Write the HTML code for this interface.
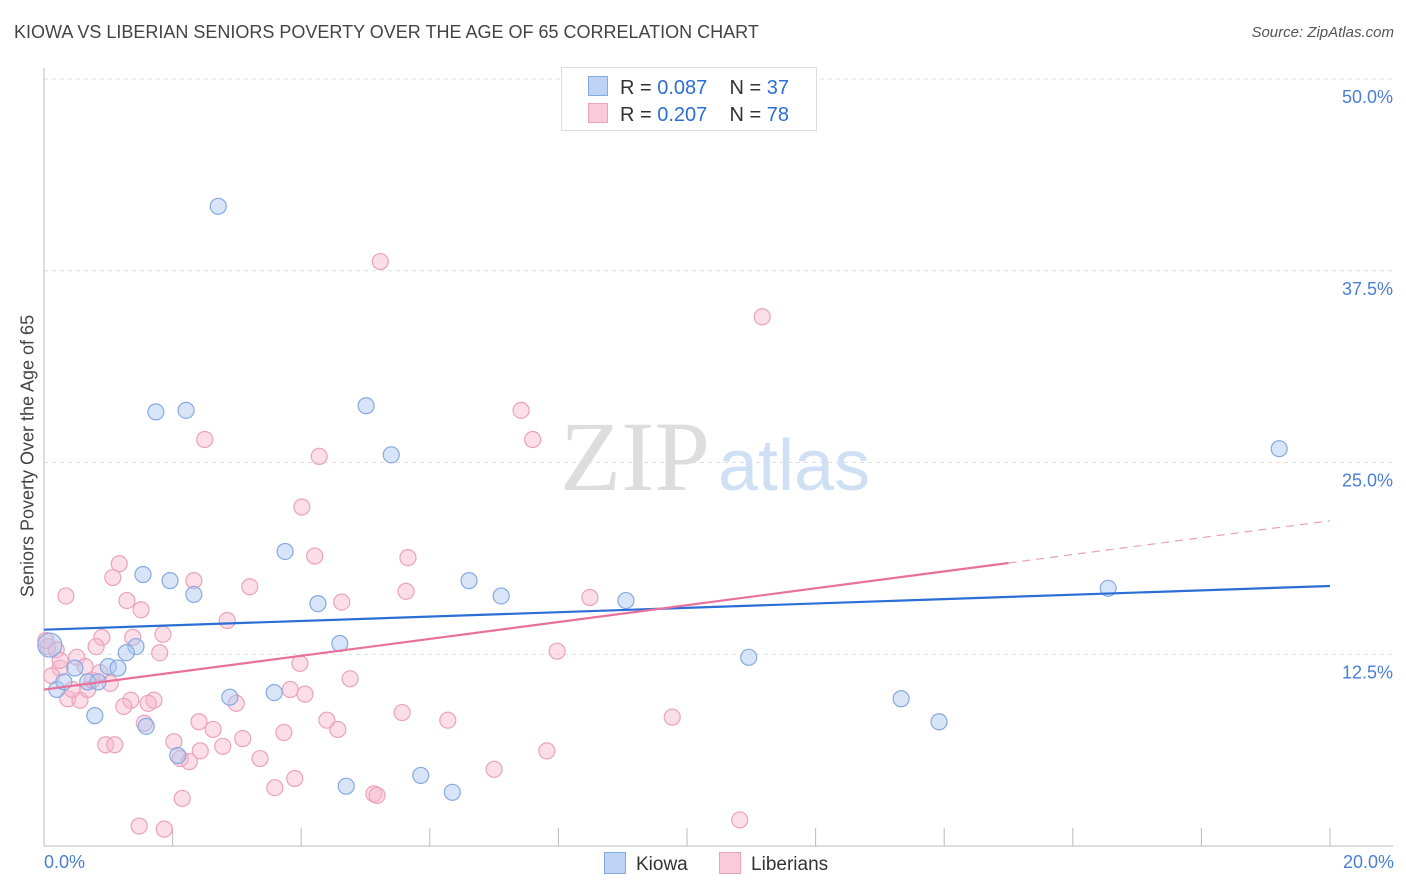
<!DOCTYPE html>
<html><head><meta charset="utf-8">
<style>
body{margin:0;background:#fff;font-family:"Liberation Sans",sans-serif;}
#wrap{position:relative;width:1406px;height:892px;overflow:hidden;}
.t{position:absolute;white-space:nowrap;}
</style></head>
<body>
<div id="wrap">
<div class="t" style="left:14px;top:22px;font-size:18px;color:#444;">KIOWA VS LIBERIAN SENIORS POVERTY OVER THE AGE OF 65 CORRELATION CHART</div>
<div class="t" style="right:12px;top:24px;font-size:15px;color:#555;font-style:italic;">Source: ZipAtlas.com</div>
<svg id="svg" width="1406" height="892" style="position:absolute;left:0;top:0"></svg>
</div>
<script>
const kiowaX=[2.71,1.74,2.21,5.01,5.40,19.21,3.75,1.54,1.96,2.33,4.26,6.61,7.11,9.05,16.55,4.60,1.43,1.28,1.00,1.15,0.48,0.68,0.84,0.20,0.79,1.59,2.89,3.58,2.08,4.70,5.86,6.35,10.96,13.33,13.92,0.09,0.31];
const kiowaY=[41.7,28.3,28.4,28.7,25.5,25.9,19.2,17.7,17.3,16.4,15.8,17.3,16.3,16.0,16.8,13.2,13.0,12.6,11.7,11.6,11.6,10.7,10.7,10.2,8.5,7.8,9.7,10.0,5.9,3.9,4.6,3.5,12.3,9.6,8.1,13.1,10.7];
const libX=[5.23,11.17,7.42,7.60,2.50,4.28,4.01,1.17,4.21,5.66,1.07,2.33,3.20,0.34,1.29,1.51,4.63,5.63,8.49,2.85,1.85,1.38,0.90,0.81,1.80,7.98,0.51,3.98,0.64,0.25,0.06,0.12,1.03,4.76,3.83,4.06,0.37,0.56,1.35,1.71,1.62,1.24,2.99,5.57,6.28,9.77,4.40,4.57,2.41,2.63,1.56,3.73,2.02,3.09,0.96,1.10,2.78,2.43,7.82,3.36,2.12,2.26,7.00,3.90,3.59,5.13,5.18,2.15,1.48,1.87,10.82,0.19,0.03,0.25,0.44,0.68,0.75,0.87];
const libY=[38.1,34.5,28.4,26.5,26.5,25.4,22.1,18.4,18.9,18.8,17.5,17.3,16.9,16.3,16.0,15.4,15.9,16.6,16.2,14.7,13.8,13.6,13.6,13.0,12.6,12.7,12.3,11.9,11.7,11.6,13.0,11.1,10.6,10.9,10.2,9.9,9.6,9.5,9.5,9.5,9.3,9.1,9.3,8.7,8.2,8.4,8.2,7.6,8.1,7.6,8.0,7.4,6.8,7.0,6.6,6.6,6.5,6.2,6.2,5.7,5.7,5.5,5.0,4.4,3.8,3.4,3.3,3.1,1.3,1.1,1.7,12.8,13.4,12.1,10.2,10.2,10.8,11.3];
const kiowaTrend=[14.1,16.95];
const libTrend=[10.2,21.2];
const yTicks=[12.5,25.0,37.5,50.0];
const yTickLabels=["12.5%","25.0%","37.5%","50.0%"];
const xTicks=[0,2,4,6,8,10,12,14,16,18,20];

const X0=44,X1=1330,Y0=846,Ypp=767/50;
const sx=v=>X0+(X1-X0)*v/20;
const sy=v=>Y0-v*Ypp;
const svg=document.getElementById('svg');
const NS='http://www.w3.org/2000/svg';
function mk(tag,attrs,parent){const e=document.createElementNS(NS,tag);for(const k in attrs)e.setAttribute(k,attrs[k]);(parent||svg).appendChild(e);return e;}

yTicks.forEach((v,i)=>{
  const g=mk('line',{x1:X0,x2:1393,y1:sy(v),y2:sy(v),stroke:'#ddd','stroke-dasharray':'4,4'});
  
  
  const t=mk('text',{x:1393,y:sy(v)+24,'text-anchor':'end','font-size':18,fill:'#4a7fd4','font-family':'Liberation Sans, sans-serif'});
  t.textContent=yTickLabels[i];
  
  
});
let a=mk('line',{x1:X0,x2:X0,y1:68,y2:Y0,stroke:'#bbb'});


a=mk('line',{x1:X0,x2:1393,y1:Y0,y2:Y0,stroke:'#bbb'});


xTicks.forEach(v=>{
  const t=mk('line',{x1:sx(v),x2:sx(v),y1:Y0,y2:828,stroke:'#bbb'});
  
  
});
let w=mk('text',{x:635,y:490,'text-anchor':'middle','font-size':100,fill:'#ddd','font-family':'Liberation Serif, serif'});
w.textContent='ZIP';


w=mk('text',{x:718,y:490,'font-size':72,fill:'#cfe0f5','font-family':'Liberation Sans, sans-serif'});
w.textContent='atlas';



libX.forEach((x,i)=>{
  const c=mk('circle',{cx:sx(x),cy:sy(libY[i]),r:8,fill:'rgba(248,182,204,0.45)',stroke:'#eba2bb','stroke-width':1.2});
  
  
});
kiowaX.forEach((x,i)=>{
  const c=mk('circle',{cx:sx(x),cy:sy(kiowaY[i]),r:i===35?12:8,fill:'rgba(168,198,242,0.45)',stroke:'#86a9e0','stroke-width':1.2});
  
  
});
let l=mk('line',{x1:sx(0),y1:sy(kiowaTrend[0]),x2:sx(20),y2:sy(kiowaTrend[1]),stroke:'#2a6fd6','stroke-width':2.2});


const pAt=x=>libTrend[0]+(libTrend[1]-libTrend[0])*x/20;
l=mk('line',{x1:sx(0),y1:sy(pAt(0)),x2:sx(15),y2:sy(pAt(15)),stroke:'#e8709a','stroke-width':2.2});


l=mk('line',{x1:sx(15),y1:sy(pAt(15)),x2:sx(20),y2:sy(pAt(20)),stroke:'#e8a0b8','stroke-width':1.2,'stroke-dasharray':'8,6'});


</script>
<div class="t" style="left:28px;top:456px;font-size:18px;color:#444;transform:translate(-50%,-50%) rotate(-90deg);">Seniors Poverty Over the Age of 65</div>
<div class="t" style="left:44px;top:852px;font-size:18px;color:#4a7fd4;">0.0%</div>
<div class="t" style="right:12px;top:852px;font-size:18px;color:#4a7fd4;">20.0%</div>
<div style="position:absolute;left:561px;top:67px;width:254px;height:62px;border:1px solid #ddd;background:#fff;font-size:20px;color:#333;">
 <div style="position:absolute;left:26px;top:8px;white-space:nowrap;"><span style="display:inline-block;width:18px;height:18px;background:#bcd3f5;border:1px solid #86a9e0;vertical-align:-2px;margin-right:12px;"></span>R = <span style="color:#2a6fd6">0.087</span>&nbsp;&nbsp;&nbsp; N = <span style="color:#2a6fd6">37</span></div>
 <div style="position:absolute;left:26px;top:35px;white-space:nowrap;"><span style="display:inline-block;width:18px;height:18px;background:#f9cad9;border:1px solid #eba2bb;vertical-align:-2px;margin-right:12px;"></span>R = <span style="color:#2a6fd6">0.207</span>&nbsp;&nbsp;&nbsp; N = <span style="color:#2a6fd6">78</span></div>
</div>
<div style="position:absolute;left:604px;top:852px;font-size:19px;color:#333;white-space:nowrap;">
 <span><span style="display:inline-block;width:20px;height:20px;background:#bcd3f5;border:1px solid #86a9e0;vertical-align:-4px;margin-right:10px;"></span>Kiowa</span>
 <span style="margin-left:26px;"><span style="display:inline-block;width:20px;height:20px;background:#f9cad9;border:1px solid #eba2bb;vertical-align:-4px;margin-right:10px;"></span>Liberians</span>
</div>
</body></html>
